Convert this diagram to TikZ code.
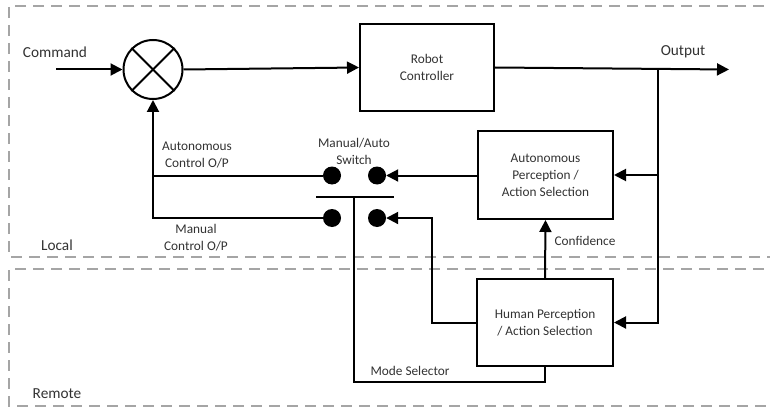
\documentclass[tikz,border=0pt]{standalone}
\usepackage{fontspec}
\setmainfont{Carlito}
\usetikzlibrary{arrows.meta,calc}
\definecolor{txt}{RGB}{50,50,50}
\definecolor{dashgray}{RGB}{165,165,165}
\tikzset{
  conn/.style={line width=2pt, black},
  arr/.style={conn, -{Triangle[length=12pt,width=12pt]}},
  blk/.style={draw, line width=2pt, rectangle, inner sep=0pt, font=\fontsize{13.3}{17}\selectfont, text=txt, align=center},
  dot/.style={circle, fill=black, minimum size=18pt, inner sep=0pt},
  lbl/.style={text=txt, font=\fontsize{13.3}{17}\selectfont, align=center, inner sep=0pt},
  biglbl/.style={text=txt, font=\fontsize{15.3}{18}\selectfont, align=center, inner sep=0pt},
  zone/.style={draw=dashgray, line width=2.4pt, dash pattern=on 11pt off 7pt}
}
\begin{document}
\begin{tikzpicture}[x=1pt,y=-1pt]
\useasboundingbox (0,0) rectangle (770,409);
\clip (0,0) rectangle (770,409);
% zones
\draw[zone] (800,6) -- (9,6) -- (9,257) -- (800,257);
\draw[zone] (800,269) -- (9,269) -- (9,406) -- (800,406);
\node[biglbl] (local) at (57,245) {Local};
\node[biglbl] (remote) at (57,394) {Remote};
% nodes
\node[draw, circle, line width=2pt, minimum size=59pt, inner sep=0pt] (sum) at (153,69.5) {};
\draw[conn] (sum.north west) -- (sum.south east);
\draw[conn] (sum.north east) -- (sum.south west);
\node[blk, minimum width=134pt, minimum height=87pt] (robot) at (427,67.5) {Robot\\Controller};
\node[blk, minimum width=135pt, minimum height=88pt] (auto) at (545.5,175) {Autonomous\\Perception /\\Action Selection};
\node[blk, minimum width=136pt, minimum height=87pt] (human) at (545,322.5) {Human Perception\\/ Action Selection};
\node[dot] (d1) at (332,175.5) {};
\node[dot] (d2) at (377,175.5) {};
\node[dot] (d3) at (332,218) {};
\node[dot] (d4) at (377,218) {};
\coordinate (barl) at (316,197);
\coordinate (barr) at (394,197);
\coordinate (barm) at (354,197);
\coordinate (modeb) at (354,382);
\coordinate (cmd) at (56,69.5);
\coordinate (out) at (729,69.5);
\coordinate (junc) at (658,69.5);
\coordinate (mj) at (153,218);
\coordinate (hv) at (432,322.5);
% labels
\node[biglbl] (lcmd) at (55,52) {Command};
\node[biglbl] (lout) at (683,52) {Output};
\node[lbl] (lauto) at (197,155) {Autonomous\\Control O/P};
\node[lbl] (lman) at (196,238) {Manual\\Control O/P};
\node[lbl] (lsw) at (354,151) {Manual/Auto\\Switch};
\node[lbl] (lconf) at (585,241) {Confidence};
\node[lbl] (lmode) at (410,371) {Mode Selector};
% connectors
\draw[arr] (cmd) -- (sum.west);
\draw[arr] (sum.east) -- (robot.west);
\draw[arr] (robot.east) -- (out);
\draw[arr] (junc) |- (human.east);
\draw[arr] (junc |- auto.east) -- (auto.east);
\draw[arr] (auto.west |- d2) -- (d2.east);
\draw[arr] (human.west) -- (hv) |- (d4.east);
\draw[arr] (human.north) -- (auto.south);
\draw[arr] (d1.west) -| (sum.south);
\draw[conn] (d3.west) -- (mj) -- (mj |- d1);
\draw[conn] (barl) -- (barr);
\draw[conn] (barm) -- (modeb) -| (human.south);
\end{tikzpicture}
\end{document}
